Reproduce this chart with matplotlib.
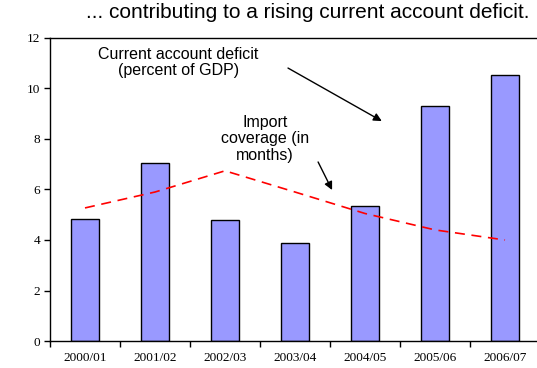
import matplotlib.pyplot as plt
import numpy as np

years = ["2000/01", "2001/02", "2002/03", "2003/04", "2004/05", "2005/06", "2006/07"]
deficit = [4.83, 7.05, 4.79, 3.88, 5.35, 9.3, 10.53]
coverage = [5.27, 5.9, 6.74, 5.9, 5.05, 4.4, 4.0]

fig = plt.figure(figsize=(5.37, 3.68), dpi=100)
ax = fig.add_axes([50 / 537, 27 / 368, 490 / 537, 303 / 368])

x = np.arange(len(years))
ax.bar(x, deficit, width=0.4, color="#9999ff", edgecolor="black", linewidth=1.0, zorder=2)
ax.plot(x, coverage, color="red", linestyle=(0, (6, 4)), linewidth=1.2, zorder=3)

ax.set_xlim(-0.5, 6.5)
ax.set_ylim(0, 12)
ax.set_yticks(range(0, 13, 2))
ax.set_xticks(x)
ax.set_xticklabels(years)
# ticks sit between categories, labels at category centres
ax.set_xticks(np.arange(-0.5, 7, 1), minor=True)
ax.tick_params(axis="x", which="major", length=0, pad=8)
ax.tick_params(axis="x", which="minor", length=4, width=1.0, direction="out")
ax.tick_params(axis="y", length=4, width=1.0, direction="out", pad=3)
for lbl in ax.get_xticklabels() + ax.get_yticklabels():
    lbl.set_family("Liberation Serif")
    lbl.set_fontsize(9.5)
for s in ax.spines.values():
    s.set_linewidth(1.0)

fig.text(308 / 537, 1 - 13 / 368, "... contributing to a rising current account deficit.",
         ha="center", va="center", fontsize=15, family="Liberation Sans")

arrow = dict(arrowstyle="-|>", color="black", lw=1.0, shrinkA=0, shrinkB=0, mutation_scale=12)
ax.text(1.33, 11.03, "Current account deficit\n(percent of GDP)", ha="center", va="center",
        fontsize=11.5, family="Liberation Sans", linespacing=1.05)
ax.annotate("", xy=(4.24, 8.71), xytext=(2.9, 10.81), arrowprops=arrow)

ax.text(2.57, 8.0, "Import\ncoverage (in\nmonths)", ha="center", va="center",
        fontsize=11.5, family="Liberation Sans", linespacing=1.15)
ax.annotate("", xy=(3.53, 5.98), xytext=(3.33, 7.09), arrowprops=arrow)

fig.savefig("out.png", dpi=100)
